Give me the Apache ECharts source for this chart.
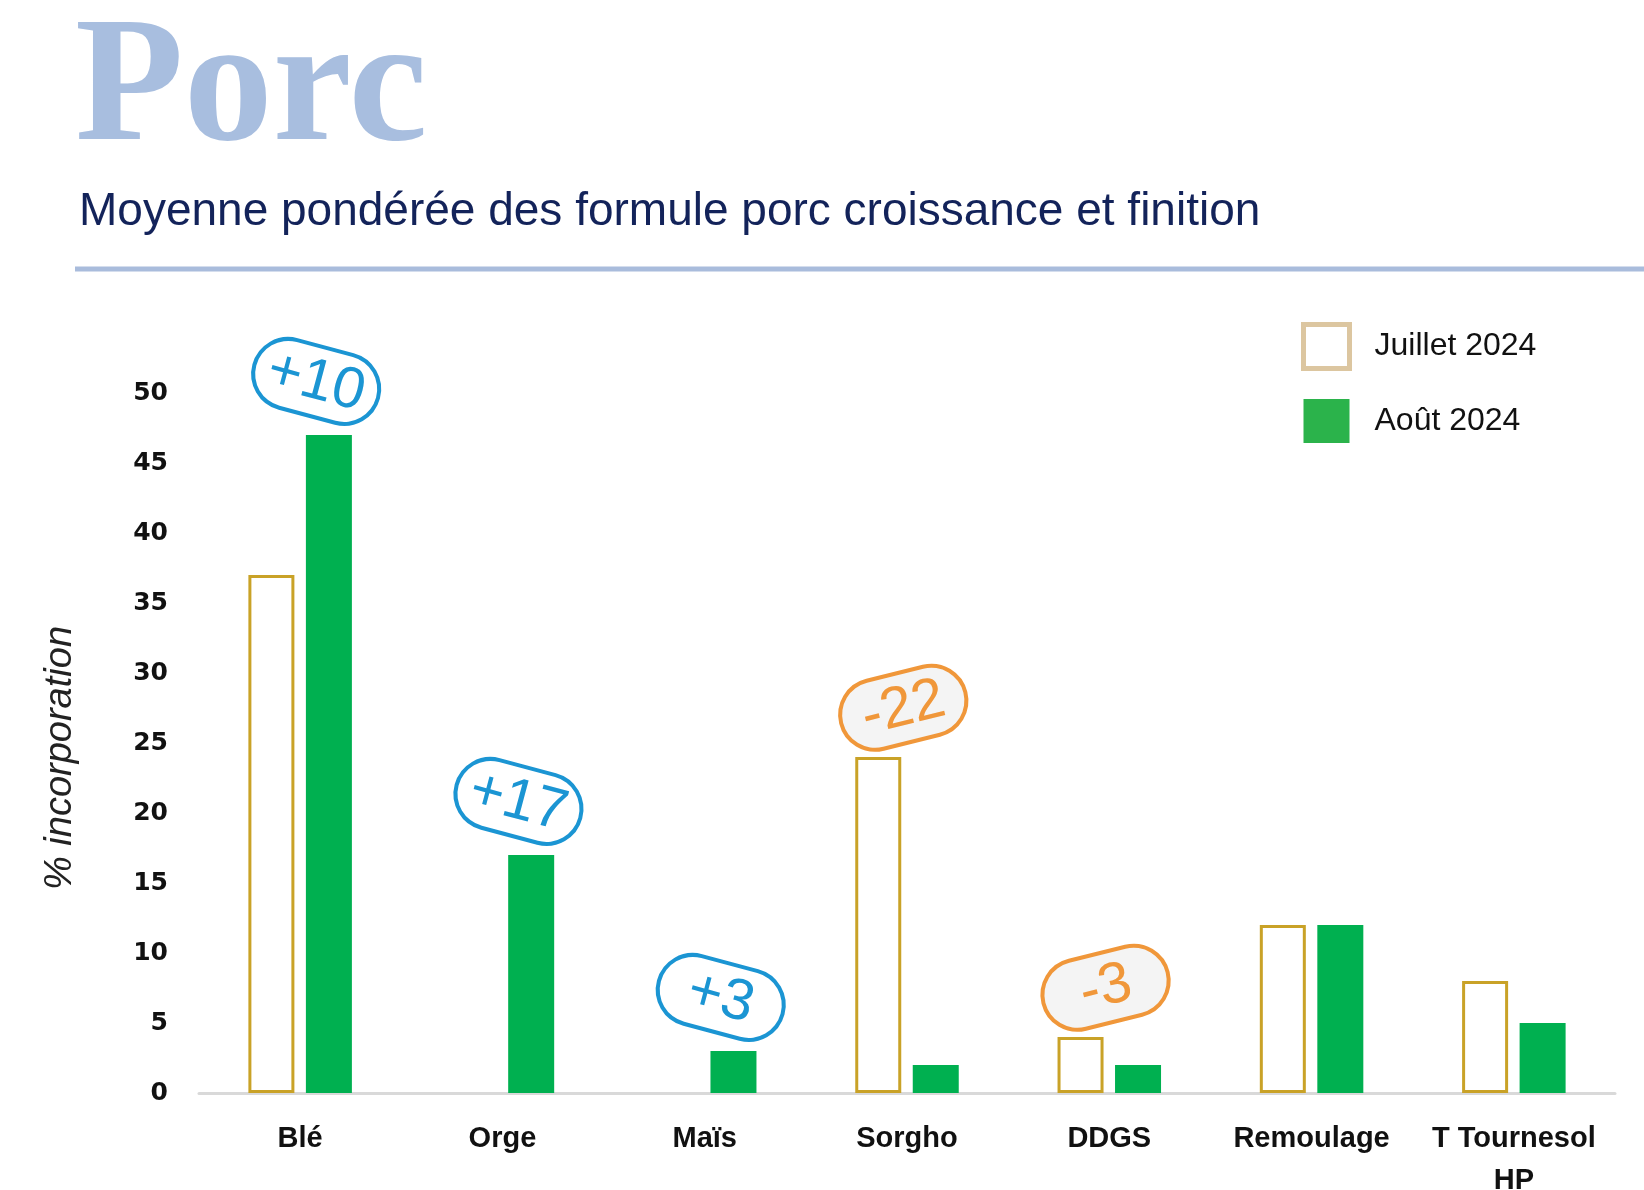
<!DOCTYPE html>
<html>
<head>
<meta charset="utf-8">
<script src="https://cdn.jsdelivr.net/npm/echarts@6/dist/echarts.min.js"></script>
<style>
html,body{margin:0;padding:0;background:#fff;}
#chart{width:1644px;height:1190px;}
</style>
</head>
<body>
<div id="chart"></div>
<script>
const categories = ['Blé', 'Orge', 'Maïs', 'Sorgho', 'DDGS', 'Remoulage', 'T Tournesol\nHP'];
const juillet2024 = [37, 0, 0, 24, 4, 12, 8];
const aout2024 = [47, 17, 3, 2, 2, 12, 5];
const deltaLabels = ['+10', '+17', '+3', '-22', '-3', null, null];
const yTicks = { min: 0, max: 50, interval: 5 };
const seriesNames = ['Juillet 2024', 'Août 2024'];

const blue = '#1b95d3';
const orange = '#f0973a';

function badge(text, positive) {
  return {
    show: true,
    position: 'top',
    distance: positive ? 16 : 9,
    formatter: text,
    rotate: positive ? -15 : 14,
    offset: positive ? [-22, 0] : [34, 0],
    color: positive ? blue : orange,
    fontFamily: 'Liberation Sans',
    fontSize: 58,
    lineHeight: 60,
    width: 108,
    align: 'center',
    padding: [4, 8, 2, 8],
    borderColor: positive ? blue : orange,
    borderWidth: 4,
    borderRadius: 38,
    backgroundColor: positive ? '#ffffff' : '#f4f4f4'
  };
}

const juilletData = juillet2024.map((v, i) => {
  const item = { value: v === 0 ? '-' : v };
  const d = deltaLabels[i];
  if (d && d.startsWith('-')) item.label = badge(d, false);
  return item;
});
const aoutData = aout2024.map((v, i) => {
  const item = { value: v };
  const d = deltaLabels[i];
  if (d && d.startsWith('+')) item.label = badge(d, true);
  return item;
});

const chart = echarts.init(document.getElementById('chart'));
chart.setOption({
  animation: false,
  backgroundColor: '#ffffff',
  title: [
    {
      text: 'Porc',
      left: 70,
      top: -1,
      textStyle: { fontFamily: 'Liberation Serif', fontWeight: 'bold', fontSize: 178, color: '#a8bedf' }
    },
    {
      text: 'Moyenne pondérée des formule porc croissance et finition',
      left: 74,
      top: 184,
      textStyle: { fontFamily: 'Liberation Sans', fontWeight: 'normal', fontSize: 46, color: '#13235a' }
    }
  ],
  graphic: [
    { type: 'line', shape: { x1: 75, y1: 269, x2: 1644, y2: 269 }, style: { stroke: '#a9bcdc', lineWidth: 5 } }
  ],
  legend: {
    orient: 'vertical',
    left: 1296,
    top: 317,
    itemWidth: 46,
    itemHeight: 44,
    itemGap: 28,
    icon: 'rect',
    textStyle: { fontFamily: 'Liberation Sans', fontSize: 32, color: '#111', padding: [0, 0, 0, 20] },
    data: [
      { name: seriesNames[0], itemStyle: { color: '#ffffff', borderColor: '#dcc6a0', borderWidth: 5 } },
      { name: seriesNames[1], itemStyle: { color: '#2bb34b' } }
    ]
  },
  grid: { left: 199, right: 29, top: 393, bottom: 97, containLabel: false, outerBoundsMode: 'none' },
  xAxis: {
    type: 'category',
    data: categories,
    axisLine: { lineStyle: { color: '#d9d9d9', width: 3 } },
    axisTick: { show: false },
    axisLabel: { fontFamily: 'Liberation Sans', fontWeight: 'bold', fontSize: 29, color: '#111', margin: 25, lineHeight: 42, interval: 0 }
  },
  yAxis: {
    type: 'value',
    min: yTicks.min,
    max: yTicks.max,
    interval: yTicks.interval,
    name: '% incorporation',
    nameLocation: 'middle',
    nameGap: 120,
    nameTextStyle: { fontFamily: 'Liberation Sans', fontStyle: 'italic', fontSize: 38, color: '#222', padding: [0, 30, 0, 0] },
    axisLine: { show: false },
    axisTick: { show: false },
    splitLine: { show: false },
    axisLabel: { fontFamily: 'DejaVu Sans', fontWeight: 'bold', fontSize: 25, color: '#111', margin: 31 }
  },
  series: [
    {
      name: seriesNames[0],
      type: 'bar',
      barWidth: 46,
      barGap: '25%',
      data: juilletData,
      itemStyle: { color: '#ffffff', borderColor: '#c9a227', borderWidth: 3 }
    },
    {
      name: seriesNames[1],
      type: 'bar',
      barWidth: 46,
      data: aoutData,
      itemStyle: { color: '#00b050' }
    }
  ]
});
</script>
</body>
</html>
